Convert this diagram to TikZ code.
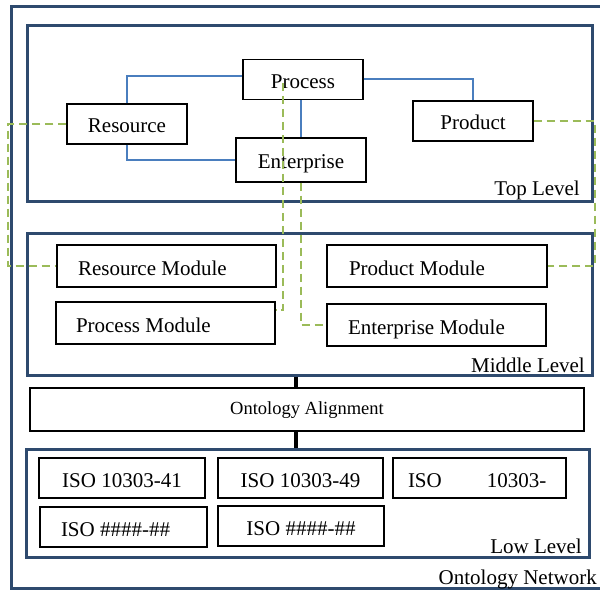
\documentclass[tikz,border=0pt]{standalone}
\usepackage{fontspec}
\setmainfont{Liberation Serif}
\usetikzlibrary{calc}
\definecolor{navy}{RGB}{46,74,110}
\definecolor{linkblue}{RGB}{74,126,190}
\definecolor{dashgreen}{RGB}{155,187,89}
\begin{document}
\begin{tikzpicture}[x=1pt,y=-1pt,
  font=\fontsize{21}{25}\selectfont,
  frame/.style={draw=navy,line width=3pt,inner sep=0pt},
  box/.style={draw=black,line width=1.3pt,fill=white,inner sep=0pt,
    text height=19pt,text depth=1pt},
  lbox/.style={box,align=flush left,inner xsep=#1},
  bluelink/.style={draw=linkblue,line width=2pt},
  greenlink/.style={draw=dashgreen,line width=2pt,dash pattern=on 8pt off 5pt},
  thicklink/.style={draw=black,line width=3.5pt},
  lvl/.style={anchor=base east,inner sep=0pt}]
\useasboundingbox (0,0) rectangle (600,591);
% outer frame (right side outside the picture)
\draw[navy,line width=3pt] (602,7) -- (11,7) -- (11,588) -- (602,588);
% level frames
\node[frame,minimum width=565pt,minimum height=175pt] (top) at (309.5,113.5) {};
\node[frame,minimum width=565pt,minimum height=142pt] (mid) at (309.5,304) {};
\node[frame,minimum width=563pt,minimum height=108pt] (low) at (307.5,503) {};
% labels
\node[lvl] (ltop) at (580,195) {Top Level};
\node[lvl] (lmid) at (585,372) {Middle Level};
\node[lvl] (llow) at (582,553) {Low Level};
\node[lvl] (lnet) at (597,584) {Ontology Network};
% coordinates for connector routing
\coordinate (gL) at (8,0);
\coordinate (gR) at (595,0);
\coordinate (g2) at (283,83);
\coordinate (c1) at (296,0);
% top level boxes
\node[box,minimum width=120pt,minimum height=40pt] (proc) at (303,79.5) {Process};
\node[box,minimum width=120pt,minimum height=40pt] (res) at (127,124) {Resource};
\node[box,minimum width=130pt,minimum height=44pt] (ent) at (301,160) {Enterprise};
\node[box,minimum width=120pt,minimum height=40pt] (prod) at (473,121) {Product};
% middle level modules
\node[lbox=21pt,text width=177pt,minimum height=42pt] (resm) at (166.5,266) {Resource Module};
\node[lbox=20pt,text width=179pt,minimum height=42pt] (procm) at (165.5,323) {Process Module};
\node[lbox=22pt,text width=176pt,minimum height=42pt] (prodm) at (437,266) {Product Module};
\node[lbox=21pt,text width=177pt,minimum height=42pt] (entm) at (436.5,325) {Enterprise Module};
% alignment
\node[box,minimum width=554pt,minimum height=43pt,font=\fontsize{18.5}{22}\selectfont,
  text height=12pt,text depth=2pt] (align) at (307,409.5) {Ontology Alignment};
% low level
\node[box,minimum width=166pt,minimum height=40pt] (iso1) at (122,478) {ISO 10303-41};
\node[box,minimum width=165pt,minimum height=40pt] (iso2) at (300.5,478) {ISO 10303-49};
\node[lbox=15pt,text width=143pt,minimum height=40pt] (iso3) at (479.5,478) {ISO\hspace*{45pt}10303-};
\node[lbox=21pt,text width=125pt,minimum height=40pt] (iso4) at (123.5,527) {ISO \#\#\#\#-\#\#};
\node[box,minimum width=166pt,minimum height=40pt] (iso5) at (301,526) {ISO \#\#\#\#-\#\#};
% blue links
\draw[bluelink] (res.north) |- ([yshift=3.5pt]proc.west);
\draw[bluelink] (res.south) |- (ent.west);
\draw[bluelink] (proc.east) -| (prod.north);
\draw[bluelink] (proc.south -| ent.north) -- (ent.north);
% green dashed links
\draw[greenlink] (res.west) -- (res.west -| gL) |- (resm.west);
\draw[greenlink] (g2) |- ([yshift=13pt]procm.east);
\draw[greenlink] (ent.south) |- (entm.west);
\draw[greenlink] (prod.east) -- (prod.east -| gR) |- (prodm.east);
% thick connectors
\draw[thicklink] (c1 |- mid.south) -- (c1 |- align.north);
\draw[thicklink] (c1 |- align.south) -- (c1 |- low.north);
\end{tikzpicture}
\end{document}
